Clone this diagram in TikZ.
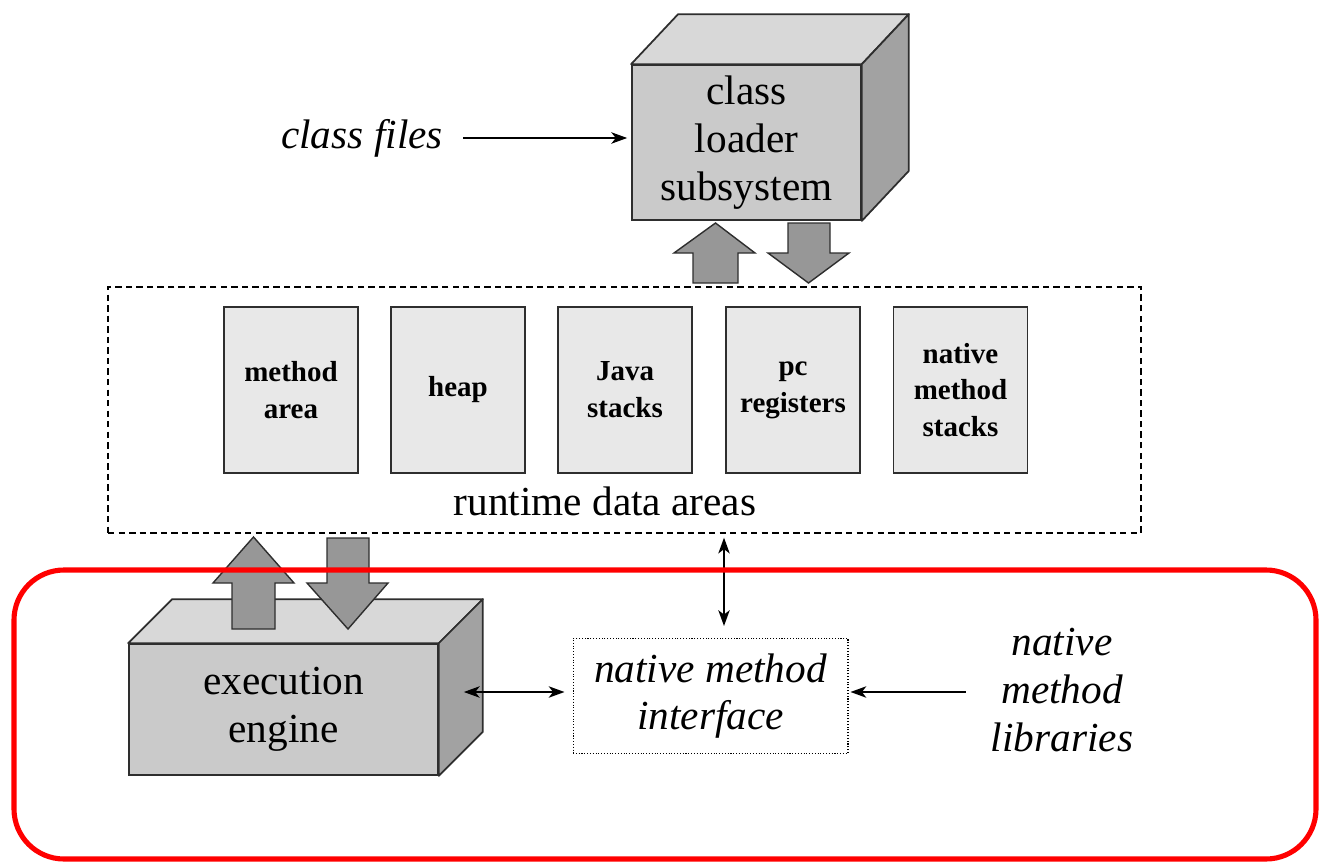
\documentclass[tikz,border=0pt]{standalone}
\usepackage{fontspec}
\setmainfont{Liberation Serif}
\usetikzlibrary{arrows.meta,calc}

\definecolor{frontgray}{HTML}{CACACA}
\definecolor{topgray}{HTML}{D8D8D8}
\definecolor{sidegray}{HTML}{A2A2A2}
\definecolor{arrowgray}{HTML}{979797}
\definecolor{areagray}{HTML}{E8E8E8}
\definecolor{edge}{HTML}{2E2E2E}
\definecolor{framered}{HTML}{FF0000}

\tikzset{
  bigfont/.style={font=\fontsize{23.5}{27.2}\selectfont},
  cubefront/.style={draw=edge, line width=1pt, fill=frontgray, inner sep=0pt,
    align=center, bigfont},
  cubetop/.style={draw=edge, line width=1pt, fill=topgray, line join=round},
  cubeside/.style={draw=edge, line width=1pt, fill=sidegray, line join=round},
  areabox/.style={draw=edge, line width=1.1pt, fill=areagray, inner sep=0pt,
    minimum width=2.68cm, minimum height=3.32cm, align=center,
    font=\fontsize{16.5}{21}\selectfont\bfseries},
  blockarrow/.style={draw=edge, line width=0.8pt, fill=arrowgray, line join=miter},
  link/.style={draw=black, line width=0.9pt,
    arrows={Stealth[length=9pt,width=6.5pt,inset=2.5pt]-Stealth[length=9pt,width=6.5pt,inset=2.5pt]}},
  linkto/.style={draw=black, line width=0.9pt,
    -{Stealth[length=9pt,width=6.5pt,inset=2.5pt]}},
  label/.style={bigfont, align=center, inner sep=0pt}
}

\begin{document}
\begin{tikzpicture}[x=0.02cm,y=-0.02cm]
\useasboundingbox (0,0) rectangle (1319,862);

% class loader subsystem (box in perspective)
\node[cubefront, minimum width=4.58cm, minimum height=3.1cm] (cl) at (746.5,142.5)
  {class\\loader\\subsystem};
\draw[cubetop] (cl.north west) -- ++(47,-50) -- ($(cl.north east)+(47,-50)$)
  -- (cl.north east) -- cycle;
\draw[cubeside] (cl.north east) -- ++(47,-50) -- ($(cl.south east)+(47,-50)$)
  -- (cl.south east) -- cycle;

\node[label, font=\fontsize{23.5}{27.2}\selectfont\itshape] (cf) at (362,138) {class files};
\draw[linkto, shorten <=0.4cm, shorten >=0.08cm] (cf.east) -- (cf.east -| cl.west);

% runtime data areas
\node[draw=black, line width=0.8pt, dash pattern=on 3.6pt off 2.4pt,
  minimum width=20.66cm, minimum height=4.92cm, inner sep=0pt] (rda) at (624.5,410) {};
\node[areabox] (ma) at (291,390) {method\\area};
\node[areabox] (hp) at (458,390) {heap};
\node[areabox] (js) at (625,390) {Java\\stacks};
\node[areabox] (pc) at (793,390) {pc\\registers};
\node[areabox] (ns) at (960.5,390) {native\\method\\stacks};
\node[label] (rdl) at (605,501) {runtime data areas};

% transfers between loader and data areas
\draw[blockarrow] (715.5,223) -- (755,253) -- (738,253) -- (738,283) -- (693,283)
  -- (693,253) -- (674,253) -- cycle;
\draw[blockarrow] (808.5,283) -- (849,253) -- (830,253) -- (830,223) -- (788,223)
  -- (788,253) -- (768,253) -- cycle;

% execution engine (box in perspective)
\node[cubefront, minimum width=6.18cm, minimum height=2.62cm] (ee) at (283.5,709.5)
  {execution\\engine};
\draw[cubetop] (ee.north west) -- ++(44,-44) -- ($(ee.north east)+(44,-44)$)
  -- (ee.north east) -- cycle;
\draw[cubeside] (ee.north east) -- ++(44,-44) -- ($(ee.south east)+(44,-44)$)
  -- (ee.south east) -- cycle;

% transfers between data areas and execution engine
\draw[blockarrow] (253.5,537) -- (294,583) -- (275,583) -- (275,629) -- (232,629)
  -- (232,583) -- (213,583) -- cycle;
\draw[blockarrow] (348,629) -- (388,583) -- (369,583) -- (369,538) -- (327,538)
  -- (327,583) -- (307,583) -- cycle;

% native method interface
\node[draw=black, line width=0.6pt, densely dotted, minimum width=5.5cm,
  minimum height=2.3cm, inner sep=0pt, align=center,
  font=\fontsize{23.5}{27.2}\selectfont\itshape] (nmi) at (710.5,696)
  {native method\\interface};
\node[label, font=\fontsize{23.5}{27.2}\selectfont\itshape] (nml) at (1062,690)
  {native\\method\\libraries};

% links to the native method interface
\coordinate (vx) at (724,0);
\coordinate (hy) at (0,692);
\draw[link, shorten <=0.08cm, shorten >=0.24cm] (rda.south -| vx) -- (nmi.north -| vx);
\draw[link, shorten <=0.5cm, shorten >=0.16cm] (ee.east |- hy) -- (nmi.west |- hy);
\draw[linkto, shorten <=0.5cm, shorten >=0.04cm] (nml.west |- hy) -- (nmi.east |- hy);

% highlighted region
\draw[framered, line width=2.9pt, rounded corners=1cm] (14,570) rectangle (1316,859);
\end{tikzpicture}
\end{document}
